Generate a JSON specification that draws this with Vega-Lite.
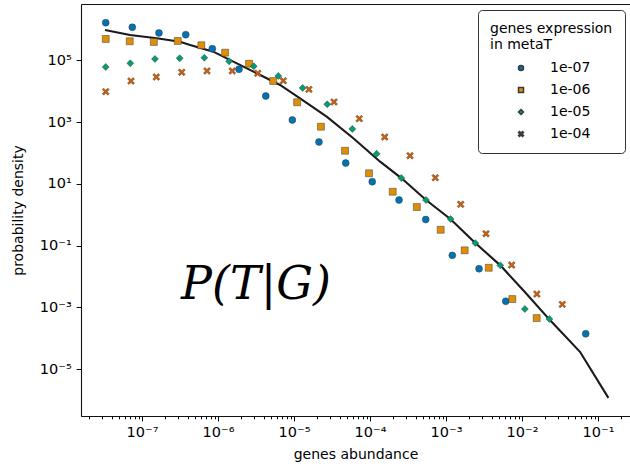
{
  "$schema": "https://vega.github.io/schema/vega-lite/v6.json",
  "autosize": {"type": "none"},
  "padding": {"left": 81, "top": 4, "right": 0, "bottom": 50},
  "width": 549,
  "height": 412,
  "config": {
    "font": "DejaVu Sans",
    "view": {"stroke": null},
    "axis": {"labelColor": "black", "titleColor": "black", "tickColor": "black", "domain": true, "domainColor": "#111", "domainWidth": 1.1, "grid": false, "titleFontWeight": "normal"}
  },
  "datasets": {
    "pts": [
      {"x": 3.33e-8, "y": 1.68e6, "series": "1e-07"},
      {"x": 7.45e-8, "y": 1.19e6, "series": "1e-07"},
      {"x": 1.67e-7, "y": 7.78e5, "series": "1e-07"},
      {"x": 3.76e-7, "y": 6.85e5, "series": "1e-07"},
      {"x": 8.41e-7, "y": 2.41e5, "series": "1e-07"},
      {"x": 1.89e-6, "y": 5.19e4, "series": "1e-07"},
      {"x": 4.25e-6, "y": 7.06e3, "series": "1e-07"},
      {"x": 9.51e-6, "y": 1.18e3, "series": "1e-07"},
      {"x": 2.13e-5, "y": 228, "series": "1e-07"},
      {"x": 4.79e-5, "y": 47.5, "series": "1e-07"},
      {"x": 1.07e-4, "y": 11.8, "series": "1e-07"},
      {"x": 2.41e-4, "y": 3.01, "series": "1e-07"},
      {"x": 5.41e-4, "y": 0.702, "series": "1e-07"},
      {"x": 1.21e-3, "y": 0.0485, "series": "1e-07"},
      {"x": 2.72e-3, "y": 0.0178, "series": "1e-07"},
      {"x": 6.11e-3, "y": 1.57e-3, "series": "1e-07"},
      {"x": 6.89e-2, "y": 1.39e-4, "series": "1e-07"},
      {"x": 3.33e-8, "y": 4.98e5, "series": "1e-06"},
      {"x": 6.89e-8, "y": 4.19e5, "series": "1e-06"},
      {"x": 1.43e-7, "y": 3.98e5, "series": "1e-06"},
      {"x": 2.95e-7, "y": 4.29e5, "series": "1e-06"},
      {"x": 6.03e-7, "y": 3.11e5, "series": "1e-06"},
      {"x": 1.24e-6, "y": 1.79e5, "series": "1e-06"},
      {"x": 2.56e-6, "y": 7.87e4, "series": "1e-06"},
      {"x": 5.32e-6, "y": 2.16e4, "series": "1e-06"},
      {"x": 1.10e-5, "y": 4.42e3, "series": "1e-06"},
      {"x": 2.26e-5, "y": 714, "series": "1e-06"},
      {"x": 4.69e-5, "y": 119, "series": "1e-06"},
      {"x": 9.70e-5, "y": 22.1, "series": "1e-06"},
      {"x": 1.99e-4, "y": 5.58, "series": "1e-06"},
      {"x": 4.13e-4, "y": 1.78, "series": "1e-06"},
      {"x": 8.51e-4, "y": 0.327, "series": "1e-06"},
      {"x": 1.76e-3, "y": 0.0705, "series": "1e-06"},
      {"x": 3.65e-3, "y": 0.0192, "series": "1e-06"},
      {"x": 7.45e-3, "y": 1.86e-3, "series": "1e-06"},
      {"x": 1.56e-2, "y": 4.50e-4, "series": "1e-06"},
      {"x": 3.33e-8, "y": 6.15e4, "series": "1e-05"},
      {"x": 7.01e-8, "y": 8.11e4, "series": "1e-05"},
      {"x": 1.48e-7, "y": 1.12e5, "series": "1e-05"},
      {"x": 3.13e-7, "y": 1.18e5, "series": "1e-05"},
      {"x": 6.61e-7, "y": 1.23e5, "series": "1e-05"},
      {"x": 1.40e-6, "y": 9.42e4, "series": "1e-05"},
      {"x": 2.95e-6, "y": 6.49e4, "series": "1e-05"},
      {"x": 6.21e-6, "y": 3.15e4, "series": "1e-05"},
      {"x": 1.30e-5, "y": 1.29e4, "series": "1e-05"},
      {"x": 2.74e-5, "y": 3.80e3, "series": "1e-05"},
      {"x": 5.85e-5, "y": 603, "series": "1e-05"},
      {"x": 1.22e-4, "y": 95.3, "series": "1e-05"},
      {"x": 2.58e-4, "y": 15.5, "series": "1e-05"},
      {"x": 5.46e-4, "y": 3.01, "series": "1e-05"},
      {"x": 1.15e-3, "y": 0.728, "series": "1e-05"},
      {"x": 2.43e-3, "y": 0.121, "series": "1e-05"},
      {"x": 5.18e-3, "y": 0.0230, "series": "1e-05"},
      {"x": 1.09e-2, "y": 8.81e-4, "series": "1e-05"},
      {"x": 2.29e-2, "y": 4.18e-4, "series": "1e-05"},
      {"x": 3.33e-8, "y": 9.75e3, "series": "1e-04"},
      {"x": 7.16e-8, "y": 2.16e4, "series": "1e-04"},
      {"x": 1.54e-7, "y": 2.92e4, "series": "1e-04"},
      {"x": 3.33e-7, "y": 4.15e4, "series": "1e-04"},
      {"x": 7.16e-7, "y": 4.57e4, "series": "1e-04"},
      {"x": 1.54e-6, "y": 4.57e4, "series": "1e-04"},
      {"x": 3.33e-6, "y": 3.85e4, "series": "1e-04"},
      {"x": 7.23e-6, "y": 2.21e4, "series": "1e-04"},
      {"x": 1.57e-5, "y": 1.16e4, "series": "1e-04"},
      {"x": 3.36e-5, "y": 4.52e3, "series": "1e-04"},
      {"x": 7.23e-5, "y": 1.30e3, "series": "1e-04"},
      {"x": 1.56e-4, "y": 331, "series": "1e-04"},
      {"x": 3.36e-4, "y": 82.0, "series": "1e-04"},
      {"x": 7.23e-4, "y": 15.9, "series": "1e-04"},
      {"x": 1.56e-3, "y": 2.18, "series": "1e-04"},
      {"x": 3.36e-3, "y": 0.243, "series": "1e-04"},
      {"x": 7.31e-3, "y": 0.0235, "series": "1e-04"},
      {"x": 1.57e-2, "y": 2.70e-3, "series": "1e-04"},
      {"x": 3.39e-2, "y": 1.25e-3, "series": "1e-04"}
    ],
    "model": [
      {"x": 3.26e-8, "y": 9.75e5},
      {"x": 6.95e-8, "y": 6.71e5},
      {"x": 1.56e-7, "y": 5.25e5},
      {"x": 3.16e-7, "y": 4.06e5},
      {"x": 4.29e-7, "y": 3.18e5},
      {"x": 8.67e-7, "y": 1.93e5},
      {"x": 1.59e-6, "y": 9.14e4},
      {"x": 3.23e-6, "y": 3.85e4},
      {"x": 6.55e-6, "y": 1.61e4},
      {"x": 1.20e-5, "y": 5.96e3},
      {"x": 2.69e-5, "y": 1.51e3},
      {"x": 6.03e-5, "y": 301},
      {"x": 1.36e-4, "y": 52.5},
      {"x": 2.58e-4, "y": 15.5},
      {"x": 5.46e-4, "y": 3.01},
      {"x": 1.14e-3, "y": 0.728},
      {"x": 2.43e-3, "y": 0.121},
      {"x": 5.18e-3, "y": 0.0230},
      {"x": 1.09e-2, "y": 3.13e-3},
      {"x": 2.33e-2, "y": 3.87e-4},
      {"x": 5.79e-2, "y": 3.64e-5},
      {"x": 0.137, "y": 1.17e-6}
    ]
  },
  "encoding": {
    "y": {
      "field": "y", "type": "quantitative",
      "scale": {"type": "log", "domain": [3.02e-7, 6.76e6], "nice": false},
      "axis": {
        "title": "probability density", "titleFontSize": 14, "titlePadding": 14,
        "values": [1e-5, 1e-3, 1e-1, 10, 1000, 100000],
        "labelExpr": "'10' + (round(log(datum.value)/LN10) < 0 ? '⁻' : '') + ['⁰','¹','²','³','⁴','⁵','⁶','⁷','⁸','⁹'][abs(round(log(datum.value)/LN10))]",
        "labelFontSize": 14.5, "tickSize": 4.9, "labelPadding": 4.9
      }
    }
  },
  "layer": [
    {
      "data": {"name": "model"},
      "mark": {"type": "line", "color": "#1a1a1a", "strokeWidth": 2.1},
      "encoding": {
        "x": {
          "field": "x", "type": "quantitative",
          "scale": {"type": "log", "domain": [1.574e-8, 0.2636], "nice": false},
          "axis": {
            "title": null, "labels": false, "tickSize": 2.8, "orient": "bottom",
            "values": [2e-8,3e-8,4e-8,5e-8,6e-8,7e-8,8e-8,9e-8,2e-7,3e-7,4e-7,5e-7,6e-7,7e-7,8e-7,9e-7,2e-6,3e-6,4e-6,5e-6,6e-6,7e-6,8e-6,9e-6,2e-5,3e-5,4e-5,5e-5,6e-5,7e-5,8e-5,9e-5,2e-4,3e-4,4e-4,5e-4,6e-4,7e-4,8e-4,9e-4,2e-3,3e-3,4e-3,5e-3,6e-3,7e-3,8e-3,9e-3,0.02,0.03,0.04,0.05,0.06,0.07,0.08,0.09,0.2]
          }
        }
      }
    },
    {
      "data": {"name": "pts"},
      "mark": {"type": "point", "filled": true, "size": 48, "opacity": 1, "stroke": "#3a3a3a", "strokeWidth": 0.5},
      "encoding": {
        "x": {
          "field": "x", "type": "quantitative",
          "scale": {"type": "log", "domain": [1.574e-8, 0.2636], "nice": false},
          "axis": {
            "title": "genes abundance", "titleFontSize": 14, "titlePadding": 8, "orient": "bottom",
            "values": [1e-7, 1e-6, 1e-5, 1e-4, 1e-3, 1e-2, 1e-1],
            "labelExpr": "'10' + (round(log(datum.value)/LN10) < 0 ? '⁻' : '') + ['⁰','¹','²','³','⁴','⁵','⁶','⁷','⁸','⁹'][abs(round(log(datum.value)/LN10))]",
            "labelFontSize": 14.5, "tickSize": 4.9, "labelPadding": 4.9
          }
        },
        "color": {
          "field": "series", "type": "nominal",
          "scale": {"domain": ["1e-07", "1e-06", "1e-05", "1e-04"], "range": ["#0173b2", "#de8f05", "#029e73", "#d55e00"]},
          "legend": {
            "title": ["genes expression", "in metaT"],
            "orient": "none", "legendX": 397, "legendY": 6,
            "titleFontSize": 14, "titleFontWeight": "normal", "titleColor": "black", "titleLineHeight": 16,
            "labelFontSize": 14, "labelColor": "black",
            "strokeColor": "#333", "fillColor": "white", "cornerRadius": 4, "padding": 12,
            "symbolOffset": 24, "labelOffset": 22, "rowPadding": 8, "titlePadding": 9, "symbolSize": 25
          }
        },
        "shape": {
          "field": "series", "type": "nominal",
          "scale": {"domain": ["1e-07", "1e-06", "1e-05", "1e-04"], "range": ["circle", "square", "diamond", "M-1,-0.6L-0.6,-1L0,-0.4L0.6,-1L1,-0.6L0.4,0L1,0.6L0.6,1L0,0.4L-0.6,1L-1,0.6L-0.4,0Z"]}
        }
      }
    },
    {
      "data": {"values": [{"label": "P(T|G)", "x": 3.16e-6, "y": 5.4e-3}]},
      "mark": {"type": "text", "font": "DejaVu Serif", "fontStyle": "italic", "fontSize": 46, "align": "center", "baseline": "middle", "color": "black"},
      "encoding": {
        "x": {
          "field": "x", "type": "quantitative",
          "axis": {"orient": "top", "labels": false, "ticks": false, "title": null, "domain": true}
        },
        "y": {"field": "y", "type": "quantitative"},
        "text": {"field": "label"}
      }
    }
  ],
  "resolve": {"axis": {"x": "independent"}}
}
